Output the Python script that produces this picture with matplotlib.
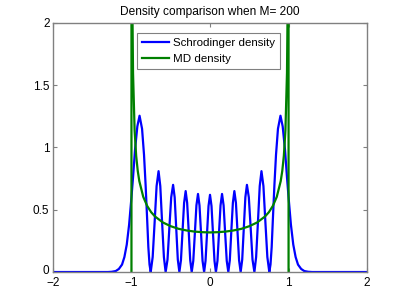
import matplotlib
matplotlib.use('Agg')
import matplotlib.pyplot as plt
import matplotlib.transforms as mtransforms

plt.rcParams['font.family'] = ['Liberation Sans', 'DejaVu Sans']

# Schrodinger density
x_schr = [-2.0, -1.3, -1.25, -1.2, -1.16, -1.12, -1.09, -1.06, -1.03, -1.0,
          -0.98, -0.955, -0.925, -0.897, -0.865, -0.84, -0.82, -0.80, -0.785, -0.77,
          -0.755, -0.73, -0.705, -0.68, -0.655, -0.633, -0.61, -0.587, -0.565,
          -0.541, -0.518, -0.494, -0.47, -0.45, -0.43, -0.41, -0.39,
          -0.37, -0.35, -0.33, -0.31, -0.291, -0.271, -0.252, -0.233,
          -0.213, -0.193, -0.173, -0.153, -0.134, -0.114, -0.095, -0.075,
          -0.057, -0.038, -0.019, 0.0, 0.019, 0.038, 0.057, 0.075,
          0.095, 0.114, 0.134, 0.153, 0.173, 0.193, 0.213, 0.233,
          0.252, 0.271, 0.291, 0.31, 0.33, 0.35, 0.37, 0.39,
          0.41, 0.43, 0.45, 0.47, 0.494, 0.518, 0.541, 0.565,
          0.587, 0.61, 0.633, 0.655, 0.68, 0.705, 0.73, 0.755,
          0.77, 0.785, 0.80, 0.82, 0.84, 0.865, 0.897, 0.925, 0.955, 0.98,
          1.0, 1.03, 1.06, 1.09, 1.12, 1.16, 1.2, 1.25, 1.3, 2.0]
y_schr = [0.0, 0.0, 0.002, 0.008, 0.025, 0.06, 0.12, 0.22, 0.38, 0.6,
          0.76, 0.98, 1.17, 1.255, 1.15, 0.94, 0.70, 0.42, 0.2, 0.06,
          0.0, 0.12, 0.40, 0.69, 0.81, 0.69, 0.40, 0.12, 0.0,
          0.10, 0.35, 0.60, 0.70, 0.60, 0.35, 0.10, 0.0,
          0.095, 0.325, 0.555, 0.65, 0.555, 0.325, 0.095, 0.0,
          0.09, 0.31, 0.535, 0.627, 0.535, 0.31, 0.09, 0.0,
          0.09, 0.31, 0.53, 0.62, 0.53, 0.31, 0.09, 0.0,
          0.09, 0.31, 0.535, 0.627, 0.535, 0.31, 0.09, 0.0,
          0.095, 0.325, 0.555, 0.65, 0.555, 0.325, 0.095, 0.0,
          0.10, 0.35, 0.60, 0.70, 0.60, 0.35, 0.10, 0.0,
          0.12, 0.40, 0.69, 0.81, 0.69, 0.40, 0.12, 0.0,
          0.06, 0.2, 0.42, 0.70, 0.94, 1.15, 1.255, 1.17, 0.98, 0.76,
          0.6, 0.38, 0.22, 0.12, 0.06, 0.025, 0.008, 0.002, 0.0, 0.0]

# MD density
x_md = [-1.0, -0.9999, -0.999, -0.995, -0.99, -0.98, -0.96, -0.94, -0.92, -0.9,
        -0.85, -0.8, -0.75, -0.7, -0.6, -0.5, -0.4, -0.3, -0.2, -0.1, 0.0,
        0.1, 0.2, 0.3, 0.4, 0.5, 0.6, 0.7, 0.75, 0.8, 0.85,
        0.9, 0.92, 0.94, 0.96, 0.98, 0.99, 0.995, 0.999, 0.9999, 1.0]
y_md = [0.0, 22.5, 7.12, 3.19, 2.256, 1.60, 1.137, 0.933, 0.812, 0.730,
        0.604, 0.531, 0.481, 0.446, 0.398, 0.368, 0.347, 0.334, 0.325, 0.320, 0.318,
        0.320, 0.325, 0.334, 0.347, 0.368, 0.398, 0.446, 0.481, 0.531, 0.604,
        0.730, 0.812, 0.933, 1.137, 1.60, 2.256, 3.19, 7.12, 22.5, 0.0]

xticks = [-2, -1, 0, 1, 2]
yticks = [0, 0.5, 1, 1.5, 2]

fig = plt.figure(figsize=(4.07, 3.06), dpi=100)
ax = fig.add_axes([0.13, 0.111, 0.772, 0.814])

ax.plot(x_schr, y_schr, color='#0000ff', lw=1.6, label='Schrodinger density')
ax.plot(x_md, y_md, color='#008000', lw=1.6, label='MD density')

ax.set_xlim(-2, 2)
ax.set_ylim(0, 2)
ax.set_xticks(xticks)
ax.set_yticks(yticks)
ax.set_yticklabels(['0', '0.5', '1', '1.5', '2'], va='center_baseline')
ax.tick_params(direction='in', length=3, width=0.8, color='#808080',
               labelsize=8.5, top=True, right=True)
ax.tick_params(axis='y', pad=2.5)
ax.tick_params(axis='x', pad=3.5)
for s in ax.spines.values():
    s.set_color('#808080')
    s.set_linewidth(1.0)

# lift the "0" y label a touch so it clears the "-2" below it
lbl0 = ax.yaxis.get_major_ticks()[0].label1
lbl0.set_transform(lbl0.get_transform() +
                   mtransforms.ScaledTranslation(0, 2 / 72, fig.dpi_scale_trans))

ax.set_title('Density comparison when M= 200', fontsize=8.6, pad=6)

leg = ax.legend(loc='upper left', bbox_to_anchor=(0.2666, 0.961), borderaxespad=0,
                fontsize=8.25, fancybox=False, framealpha=1, edgecolor='#808080',
                handlelength=2.4, handletextpad=0.35, labelspacing=0.5,
                borderpad=0.45)
leg.get_frame().set_linewidth(0.8)

fig.savefig('out.png', dpi=100)
